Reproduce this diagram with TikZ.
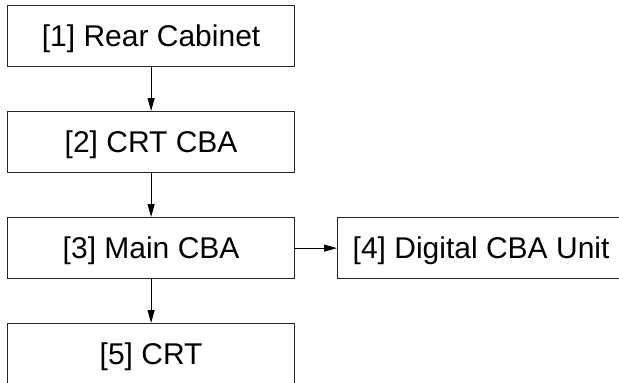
\documentclass[tikz,border=0pt]{standalone}
\usepackage{fontspec}
\setmainfont{Liberation Sans}
\usetikzlibrary{arrows.meta}
\begin{document}
\begin{tikzpicture}[x=1pt,y=-1pt,
  blk/.style={draw=black!85, line width=1.2pt, minimum width=287pt, minimum height=61pt, anchor=north west, inner sep=0pt, text height=21.5pt, text depth=0pt, font=\fontsize{30}{33}\selectfont},
  conn/.style={line width=1pt, -{Triangle[length=13pt,width=7pt]}}]
\useasboundingbox (0,0) rectangle (619,383);
\clip (0,0) rectangle (619,383);
\node[blk] (n1) at (7,5) {[1] Rear Cabinet};
\node[blk] (n2) at (7,111) {[2] CRT CBA};
\node[blk] (n3) at (7,217) {[3] Main CBA};
\node[blk] (n4) at (337,217) {[4] Digital CBA Unit};
\node[blk] (n5) at (7,323) {[5] CRT};
\draw[conn] (n1) -- (n2);
\draw[conn] (n2) -- (n3);
\draw[conn] (n3) -- (n5);
\draw[conn] (n3) -- (n4);
\end{tikzpicture}
\end{document}
